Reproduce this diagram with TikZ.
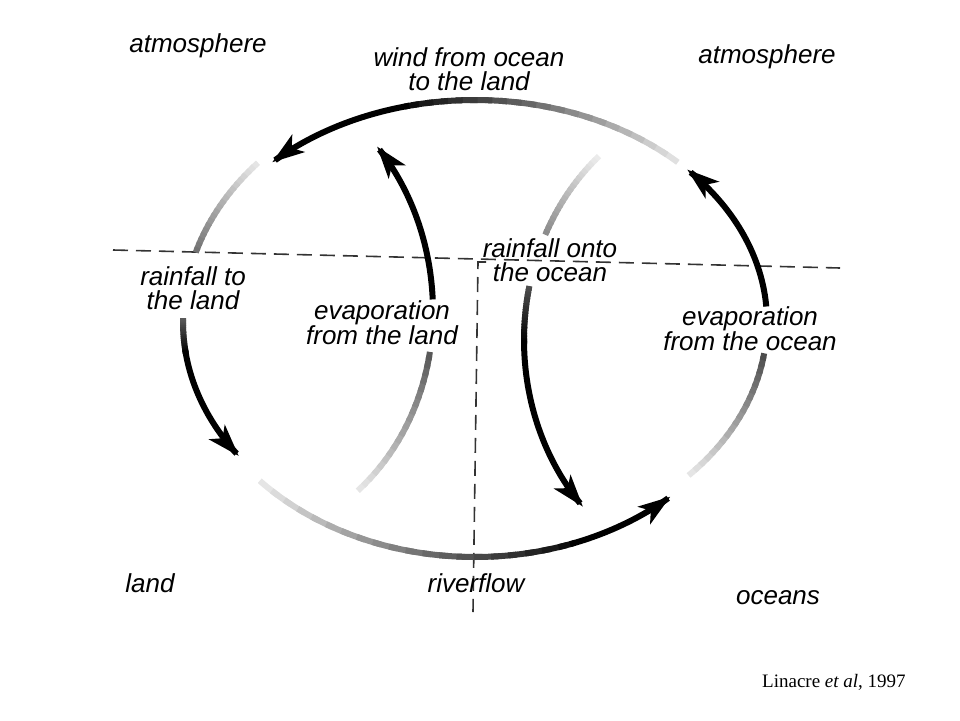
\documentclass[tikz,border=0pt]{standalone}
\usepackage{fontspec}
\setmainfont{Liberation Sans}
\newfontfamily\reffont{Liberation Serif}
\usepackage{tikz}
\usetikzlibrary{arrows.meta}
\tikzset{
	flowline/.style={line width=6pt},
	flowtip/.style={-{Stealth[length=32pt,width=21pt,inset=8pt]}},
	word/.style={inner sep=0pt, align=center, font=\itshape\fontsize{26}{24}\selectfont},
	divide/.style={black!80, line width=1.6pt, dash pattern=on 15pt off 8pt}
}
\newcommand{\fadearc}[8]{
	\foreach \k in {0,...,19}{
		\pgfmathsetmacro{\ta}{(#5)+((#6)-(#5))*\k/20}
		\pgfmathsetmacro{\tb}{(#5)+((#6)-(#5))*min(\k+1.5,20)/20}
		\pgfmathtruncatemacro{\g}{(#7)+((#8)-(#7))*\k/19}
		\draw[flowline, black!\g]plot[domain=\ta:\tb, samples=5]({#1+#3*cos(\x)}, {#2-#4*sin(\x)});
	}
}
\newcommand{\arrowarc}[6]{
	\draw[flowline, flowtip]plot[domain=#5:#6, samples=40]({#1+#3*cos(\x)}, {#2-#4*sin(\x)})
}

\begin{document}
\begin{tikzpicture}[x=1pt, y=-1pt]
		\useasboundingbox(0, 0)rectangle(960, 720);
		\draw[divide](113, 250)--(840, 268);
		\draw[divide](486, 262)--(478, 262)--(473, 612);
		\fadearc{475}{322}{292}{222}{46}{104}{12}{95}
		\arrowarc{475}{322}{292}{222}{103}{134};
		\fadearc{475}{322}{292}{238}{138}{163}{10}{55}
		\fadearc{475}{322}{292}{228}{179}{188}{65}{100}
		\arrowarc{475}{322}{292}{228}{187}{216};
		\fadearc{475}{322}{292}{235}{222.5}{290}{10}{95}
		\arrowarc{475}{322}{292}{235}{289}{312};
		\fadearc{475}{322}{292}{225}{-43}{-8}{10}{70}
		\arrowarc{475}{322}{292}{222}{4}{43.4};
		\fadearc{230}{312}{203}{230}{-51}{-10}{10}{65}
		\arrowarc{230}{312}{203}{240}{3}{43.6};
		\fadearc{734}{340}{210}{240}{130}{154}{8}{45}
		\fadearc{734}{340}{210}{240}{167}{181}{70}{100}
		\arrowarc{734}{340}{210}{240}{180}{224};
		\node[word, anchor=base](atmL)at(198, 52){atmosphere};
		\node[word, anchor=base](atmR)at(767, 63){atmosphere};
		\node[word](wind)at(469, 69){wind from ocean\\to the land};
		\node[word](rainL)at(193, 288){rainfall to\\the land};
		\node[word](evapL)at(382, 323){evaporation\\from the land};
		\node[word](rainO)at(550, 260){rainfall onto\\the ocean};
		\node[word](evapO)at(750, 329){evaporation\\from the ocean};
		\node[word, anchor=base](land)at(150, 592){land};
		\node[word, anchor=base](river)at(476, 592){riverflow};
		\node[word, anchor=base](oceans)at(778, 604){oceans};
		\node[anchor=base west, inner sep=0pt, font=\reffont\fontsize{19}{22}\selectfont](cite)at(762, 687){Linacre \textit{et al}, 1997};
	\end{tikzpicture}
\end{document}
